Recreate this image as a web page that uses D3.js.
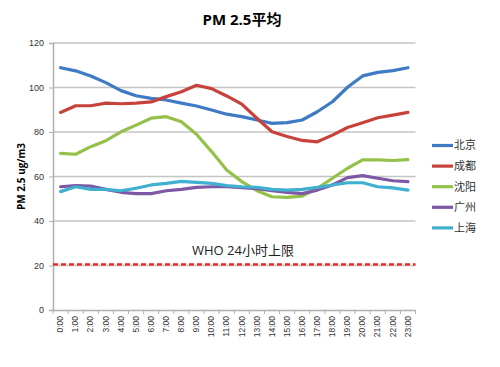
<!DOCTYPE html>
<html>
<head>
<meta charset="utf-8">
<script src="https://cdn.jsdelivr.net/npm/d3@7"></script>
<style>
  body { margin: 0; background: #fff; }
  svg { font-family: "Open Sans", "Noto Sans CJK SC", sans-serif; }
</style>
</head>
<body>
<div class="chart"></div>
<script>
// données
const hours = ["0:00","1:00","2:00","3:00","4:00","5:00","6:00","7:00","8:00","9:00","10:00","11:00",
  "12:00","13:00","14:00","15:00","16:00","17:00","18:00","19:00","20:00","21:00","22:00","23:00"];

const beijing   = [108.9,107.5,105.2,102.2,98.6,96.3,95.1,94.4,93.0,91.7,89.9,88.0,86.9,85.4,83.9,84.2,85.4,89.1,93.6,100.1,105.2,106.8,107.6,108.9];
const chengdu   = [88.8,91.8,91.8,93.0,92.7,93.0,93.5,95.9,98.1,101.0,99.5,96.2,92.5,86.2,80.1,78.0,76.2,75.6,78.6,82.0,84.2,86.4,87.6,88.8];
const shenyang  = [70.4,70.0,73.4,76.1,80.1,83.1,86.2,86.9,84.6,79.0,71.2,62.9,57.7,53.6,50.9,50.6,51.2,54.7,59.2,63.7,67.5,67.5,67.2,67.6];
const guangzhou = [55.4,55.9,55.7,54.2,52.9,52.3,52.3,53.6,54.2,55.1,55.4,55.4,55.0,54.5,53.6,52.9,52.3,53.9,56.2,59.5,60.4,59.2,58.1,57.7];
const shanghai  = [53.2,55.4,54.2,54.2,53.6,54.7,56.2,56.9,57.8,57.4,56.9,55.9,55.4,55.1,54.2,53.9,54.2,55.1,56.2,57.2,57.2,55.4,54.9,53.9];

const cityNames = ["北京", "成都", "沈阳", "广州", "上海"];
const cityColors = ["#3f7bc5", "#c8423c", "#95c14a", "#7d58a4", "#3fb0d0"];
const whoLimit = 20.5;
const yTicks = [0, 20, 40, 60, 80, 100, 120];

const width = 500;
const height = 367;
const margin = { top: 43, right: 84, bottom: 57, left: 53 };

const series = [beijing, chengdu, shenyang, guangzhou, shanghai].map((v, i) => ({
  name: cityNames[i], color: cityColors[i], values: v
}));

const svg = d3.select('.chart')
  .append('svg')
  .attr('width', width)
  .attr('height', height);

const x = d3.scaleBand()
  .domain(hours)
  .range([margin.left, width - margin.right - 0.5]);

const y = d3.scaleLinear()
  .domain([0, 120])
  .range([height - margin.bottom, margin.top]);

// grille
svg.append('g')
  .selectAll('line')
  .data(yTicks.filter(d => d > 0))
  .join('line')
    .attr('x1', margin.left)
    .attr('x2', x.range()[1])
    .attr('y1', d => y(d))
    .attr('y2', d => y(d))
    .attr('stroke', '#c4c4c4')
    .attr('stroke-width', 1.5);

// axe y
svg.append('g')
  .attr('transform', `translate(${margin.left},0)`)
  .call(d3.axisLeft(y).tickValues(yTicks).tickSize(4).tickPadding(5))
  .call(g => g.select('.domain').attr('stroke', '#b0b0b0').attr('stroke-width', 1.5))
  .call(g => g.selectAll('.tick line').attr('stroke', '#b0b0b0'))
  .call(g => g.selectAll('text').attr('fill', '#333').style('font-size', '9px'));

// axe x
svg.append('g')
  .attr('transform', `translate(0,${y(0)})`)
  .call(d3.axisBottom(x).tickSize(0).tickPadding(0))
  .call(g => g.select('.domain').attr('stroke', '#b0b0b0').attr('stroke-width', 1.5))
  .call(g => g.selectAll('.tick text')
    .attr('fill', '#333')
    .style('font-size', '8.5px')
    .attr('text-anchor', 'end')
    .attr('transform', 'rotate(-90)')
    .attr('x', -6)
    .attr('y', 0)
    .attr('dy', '0.32em'));

// petites graduations entre catégories
svg.append('g')
  .selectAll('line')
  .data(hours.concat(['end']))
  .join('line')
    .attr('x1', (d, i) => margin.left + i * x.bandwidth())
    .attr('x2', (d, i) => margin.left + i * x.bandwidth())
    .attr('y1', y(0))
    .attr('y2', y(0) + 4)
    .attr('stroke', '#b0b0b0');

// limite OMS
svg.append('line')
  .attr('x1', margin.left)
  .attr('x2', x.range()[1])
  .attr('y1', y(whoLimit))
  .attr('y2', y(whoLimit))
  .attr('stroke', '#e8231f')
  .attr('stroke-width', 2.2)
  .attr('stroke-dasharray', '5,3');

svg.append('text')
  .attr('x', 192)
  .attr('y', y(whoLimit) - 9)
  .attr('fill', '#222')
  .style('font-size', '13px')
  .text('WHO 24小时上限');

// courbes
const line = d3.line()
  .x((d, i) => x(hours[i]) + x.bandwidth() / 2)
  .y(d => y(d));

svg.append('g')
  .selectAll('path')
  .data(series)
  .join('path')
    .attr('d', d => line(d.values))
    .attr('fill', 'none')
    .attr('stroke', d => d.color)
    .attr('stroke-width', 3.2)
    .attr('stroke-linejoin', 'round')
    .attr('stroke-linecap', 'round');

// légende
const legend = svg.append('g')
  .selectAll('g')
  .data(series)
  .join('g')
    .attr('transform', (d, i) => `translate(432,${145.5 + i * 20.6})`);

legend.append('line')
  .attr('x1', 0).attr('x2', 21)
  .attr('stroke', d => d.color)
  .attr('stroke-width', 3.2);

legend.append('text')
  .attr('x', 22)
  .attr('dy', '0.35em')
  .attr('fill', '#333')
  .style('font-size', '11px')
  .text(d => d.name);

// titres
svg.append('text')
  .attr('x', 242)
  .attr('y', 25)
  .attr('text-anchor', 'middle')
  .style('font-size', '15px')
  .style('font-weight', 'bold')
  .text('PM 2.5平均');

svg.append('text')
  .attr('transform', `translate(25,${(y(0) + y(120)) / 2}) rotate(-90)`)
  .attr('text-anchor', 'middle')
  .style('font-size', '10px')
  .style('font-weight', 'bold')
  .text('PM 2.5 ug/m3');
</script>
</body>
</html>
